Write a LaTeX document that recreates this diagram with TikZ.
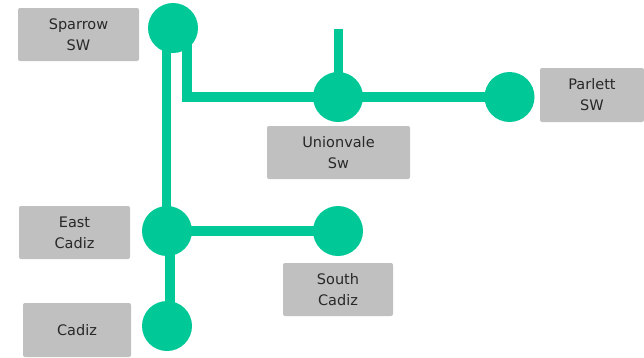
\documentclass[tikz,border=0pt]{standalone}
\usepackage{fontspec}
\setmainfont{DejaVu Sans}
\definecolor{grn}{RGB}{0,201,151}
\definecolor{boxg}{RGB}{192,192,192}
\definecolor{txt}{RGB}{40,40,40}
\begin{document}
\begin{tikzpicture}[x=1pt,y=-1pt,
  stn/.style={circle,fill=grn,inner sep=0pt,minimum size=50pt},
  lbl/.style={fill=boxg,rounded corners=2pt,inner sep=0pt,text=txt,align=center,
    font=\fontsize{14.5}{21}\selectfont},
  link/.style={draw=grn,line width=9.5pt}]
\useasboundingbox (0,0) rectangle (644,357);
% stations
\node[stn] (sp) at (173,28) {};
\node[stn] (uv) at (338,97) {};
\node[stn] (pa) at (509.5,97) {};
\node[stn] (ec) at (167,231) {};
\node[stn] (sc) at (338,231) {};
\node[stn] (cz) at (167,326) {};
\coordinate (top) at (338.5,29);
% labels
\node[lbl,minimum width=121pt,minimum height=53pt] (lsp) at (78.5,34.5) {Sparrow\\SW};
\node[lbl,minimum width=143pt,minimum height=53pt] (luv) at (338.5,152.5) {Unionvale\\Sw};
\node[lbl,minimum width=104pt,minimum height=54pt] (lpa) at (592,95) {Parlett\\SW};
\node[lbl,minimum width=111pt,minimum height=53pt] (lec) at (74.5,232.5) {East\\Cadiz};
\node[lbl,minimum width=108pt,minimum height=54pt] (lcz) at (77,330) {Cadiz};
\node[lbl,minimum width=110pt,minimum height=53pt] (lsc) at (338,289.5) {South\\Cadiz};
% links
\draw[link] ([xshift=-6.5pt]sp.center) -- ([xshift=-6.5pt]sp.center |- ec.center);
\draw[link] ([xshift=14pt]sp.center) |- (uv.center);
\draw[link] (uv.center) -- (pa.center);
\draw[link] (top) -- ([xshift=0.5pt]uv.center);
\draw[link] (ec.center) -- (sc.center);
\draw[link] ([xshift=3pt]ec.center) -- ([xshift=3pt]cz.center);
\end{tikzpicture}
\end{document}
